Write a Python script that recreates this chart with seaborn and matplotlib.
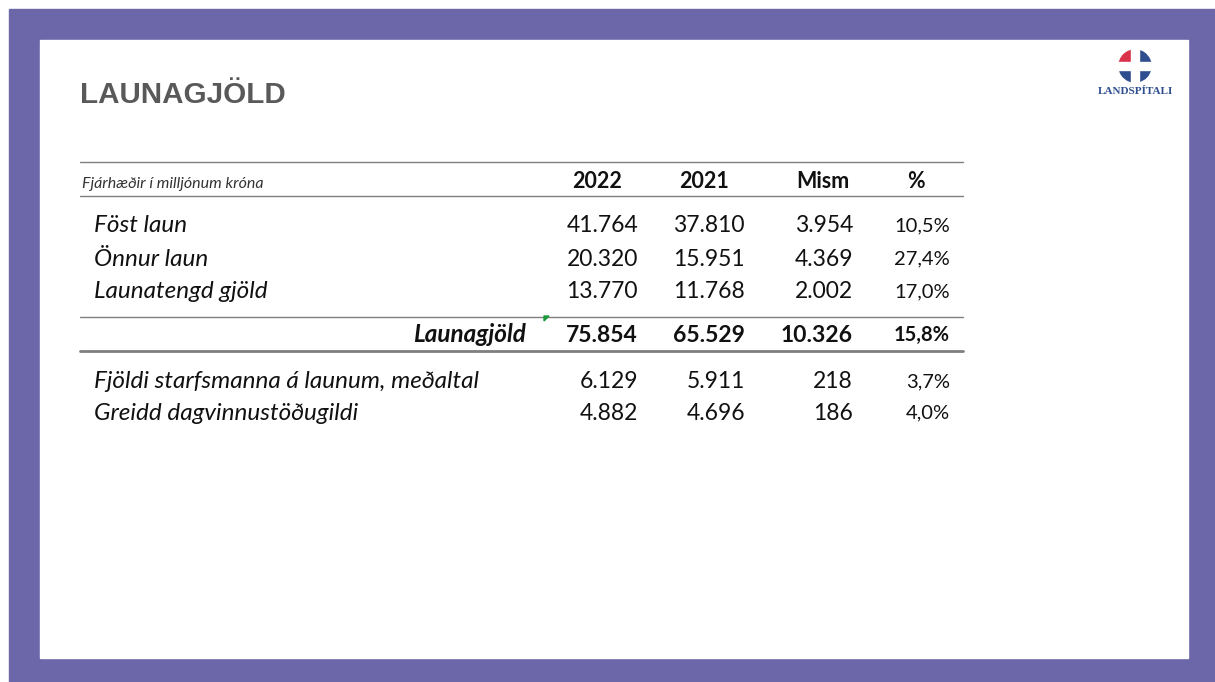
import matplotlib
matplotlib.use("Agg")
import matplotlib.pyplot as plt
import seaborn as sns
from matplotlib.patches import Rectangle, Wedge, Polygon

sns.set_theme(style="white")
plt.rcParams['font.family'] = ['Lato', 'DejaVu Sans']

# ---- data ----
title = "LAUNAGJÖLD"
unit_note = "Fjárhæðir í milljónum króna"
columns = ["2022", "2021", "Mism", "%"]
row_labels = ["Föst laun", "Önnur laun", "Launatengd gjöld"]
vals_2022 = [41764, 20320, 13770]
vals_2021 = [37810, 15951, 11768]
vals_mism = [3954, 4369, 2002]
vals_pct = [10.5, 27.4, 17.0]
total_label = "Launagjöld"
total_vals = [75854, 65529, 10326]
total_pct = 15.8
staff_labels = ["Fjöldi starfsmanna á launum, meðaltal", "Greidd dagvinnustöðugildi"]
staff_2022 = [6129, 4882]
staff_2021 = [5911, 4696]
staff_mism = [218, 186]
staff_pct = [3.7, 4.0]


def fnum(v):
    return f"{v:,}".replace(",", ".")


def fpct(p):
    return f"{p:.1f}".replace(".", ",") + "%"


W, H = 1215, 682
fig = plt.figure(figsize=(W / 100, H / 100), dpi=100)
ax = fig.add_axes([0, 0, 1, 1])
ax.set_xlim(0, W)
ax.set_ylim(H, 0)
ax.axis("off")

purple = "#6B67A8"
ax.add_patch(Rectangle((9, 9), W - 9, H - 9, color=purple, zorder=0))
ax.add_patch(Rectangle((40, 40), 1148, 618, color="white", zorder=1))

txt = "#111111"
ax.text(80, 95, title, fontsize=21.3, fontweight="bold", color="#595959",
        family=["Liberation Sans"], va="center", ha="left", zorder=3)

# logo
cx, cy, r = 1135, 66, 16
ax.add_patch(Wedge((cx, cy), r, 180, 270, color="#D9324A", zorder=3))
ax.add_patch(Wedge((cx, cy), r, 270, 180, color="#2E4E8F", zorder=3))
ax.add_patch(Rectangle((cx - 4, cy - r - 1), 8, 2 * r + 2, color="white", zorder=4))
ax.add_patch(Rectangle((cx - r - 1, cy - 4), 2 * r + 2, 8, color="white", zorder=4))
ax.text(cx, 92, "LANDSPÍTALI", fontsize=8, fontweight="bold", color="#2E4E8F",
        family=["Liberation Serif"], ha="center", va="center", zorder=3)

# lines
ax.plot([80, 963], [162, 162], color="#7f7f7f", lw=1.0, zorder=3)
ax.plot([80, 963], [196, 196], color="#7f7f7f", lw=1.0, zorder=3)
ax.plot([80, 963], [317, 317], color="#7f7f7f", lw=1.0, zorder=3)
ax.plot([80, 963], [351, 351], color="#7f7f7f", lw=2.0, zorder=3)
ax.add_patch(Polygon([[544, 316], [549, 316], [544, 321]], color="#1a9a3a", zorder=4))

ax.text(82, 184, unit_note, fontsize=11.5, style="italic", color="#333333",
        va="center", ha="left", zorder=3)

col_centers = [597, 704, 823, 916]
col_rights = [638, 745, 853, 950]
fs_lab = 17.5
fs_num = 16.5
fs_pct = 14.5
fs_head = 15.5
for c, x in zip(columns, col_centers):
    ax.text(x, 182, c, fontsize=fs_head, fontweight="bold", color=txt,
            ha="center", va="center", zorder=3)

ys = [226, 259, 292]
for i, y in enumerate(ys):
    ax.text(94, y, row_labels[i], fontsize=fs_lab, style="italic", color=txt,
            ha="left", va="center", zorder=3)
    for x, s in zip(col_rights, [fnum(vals_2022[i]), fnum(vals_2021[i]),
                                 fnum(vals_mism[i]), fpct(vals_pct[i])]):
        ax.text(x, y, s, fontsize=fs_num if s[-1] != "%" else fs_pct, color=txt,
                ha="right", va="center", zorder=3)

yt = 335
ax.text(526, yt, total_label, fontsize=fs_lab, style="italic", fontweight="bold",
        color=txt, ha="right", va="center", zorder=3)
for x, s in zip(col_rights, [fnum(v) for v in total_vals] + [fpct(total_pct)]):
    ax.text(x, yt, s, fontsize=fs_num if s[-1] != "%" else fs_pct, fontweight="bold",
            color=txt, ha="right", va="center", zorder=3)

ys2 = [382, 413]
for i, y in enumerate(ys2):
    ax.text(94, y, staff_labels[i], fontsize=fs_lab, style="italic", color=txt,
            ha="left", va="center", zorder=3)
    for x, s in zip(col_rights, [fnum(staff_2022[i]), fnum(staff_2021[i]),
                                 fnum(staff_mism[i]), fpct(staff_pct[i])]):
        ax.text(x, y, s, fontsize=fs_num if s[-1] != "%" else fs_pct, color=txt,
                ha="right", va="center", zorder=3)

fig.savefig("out.png", dpi=100)
